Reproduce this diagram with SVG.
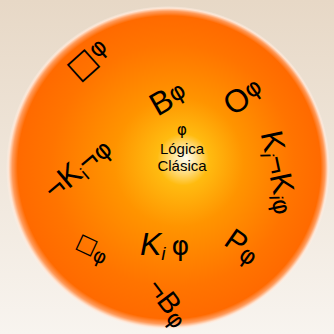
<svg xmlns="http://www.w3.org/2000/svg" width="334" height="334" viewBox="0 0 334 334">
<defs>
<linearGradient id="bg" x1="0" y1="0" x2="0" y2="1">
<stop offset="0" stop-color="#e7d8c6"/>
<stop offset="1" stop-color="#f8f4ef"/>
</linearGradient>
<radialGradient id="orb" gradientUnits="userSpaceOnUse" cx="168" cy="168" r="162" fx="186" fy="158">
<stop offset="0" stop-color="#fffdf4"/>
<stop offset="0.06" stop-color="#ffe9a8"/>
<stop offset="0.16" stop-color="#ffbb10"/>
<stop offset="0.4" stop-color="#ff9400"/>
<stop offset="0.75" stop-color="#ff7400"/>
<stop offset="0.935" stop-color="#ff6a00"/>
<stop offset="0.965" stop-color="#ff9a5a"/>
<stop offset="0.985" stop-color="#ffe4d2"/>
<stop offset="1" stop-color="#fff4ec" stop-opacity="0"/>
</radialGradient>
</defs>
<style>
text{font-family:"Liberation Sans","DejaVu Sans",sans-serif;fill:#000}
.phi{font-family:"DejaVu Sans",sans-serif}
.box{font-family:"DejaVu Sans",sans-serif}
.lbl{text-anchor:middle}
.ctr{font-size:15px;text-anchor:middle}
</style>
<rect width="334" height="334" fill="url(#bg)"/>
<circle cx="168" cy="168" r="162" fill="url(#orb)"/>
<g id="centro">
<text class="ctr phi" x="182" y="135" font-size="12">φ</text>
<text class="ctr" x="182" y="154">Lógica</text>
<text class="ctr" x="182" y="171">Clásica</text>
</g>
<g id="nodo-caja-sup" transform="translate(88,59) rotate(-42)">
<text class="lbl box" y="10" font-size="31">□<tspan class="phi" font-size="24" dy="-4">φ</tspan></text>
</g>
<g id="nodo-B" transform="translate(168,98) rotate(-30)">
<text class="lbl" y="11" font-size="32">B<tspan class="phi" font-size="24" dy="-4">φ</tspan></text>
</g>
<g id="nodo-O" transform="translate(243,96) rotate(-35)">
<text class="lbl" y="11" font-size="32">O<tspan class="phi" font-size="24" dy="-4">φ</tspan></text>
</g>
<g id="nodo-KnK" transform="translate(280,172) rotate(78)">
<text class="lbl" y="11" font-size="31">K<tspan font-size="19" font-style="italic" dy="5">i</tspan><tspan dy="-5">¬K</tspan><tspan font-size="19" font-style="italic" dy="5">i</tspan><tspan class="phi" font-size="24" dy="-2">φ</tspan></text>
</g>
<g id="nodo-P" transform="translate(243,246) rotate(35)">
<text class="lbl" y="10" font-size="30">P<tspan class="phi" font-size="24" dy="3">φ</tspan></text>
</g>
<g id="nodo-nB" transform="translate(169,302) rotate(53)">
<text class="lbl" y="10" font-size="29">¬B<tspan class="phi" font-size="23" dy="3">φ</tspan></text>
</g>
<g id="nodo-K">
<text x="140" y="255" font-size="32" font-style="italic">K<tspan font-size="19" dy="5">i</tspan><tspan class="phi" font-size="27" font-style="normal" dy="-5" dx="6">φ</tspan></text>
</g>
<g id="nodo-caja-inf" transform="translate(93,247) rotate(25)">
<text class="lbl box" y="7" font-size="22">□<tspan class="phi" dy="5" font-size="20">φ</tspan></text>
</g>
<g id="nodo-nKn" transform="translate(77,168) rotate(-40)">
<text class="lbl" y="11" font-size="31">¬K<tspan font-size="19" dy="5">i</tspan><tspan dy="-5">¬</tspan><tspan class="phi" font-size="25">φ</tspan></text>
</g>
<g id="conectores"/>
</svg>
